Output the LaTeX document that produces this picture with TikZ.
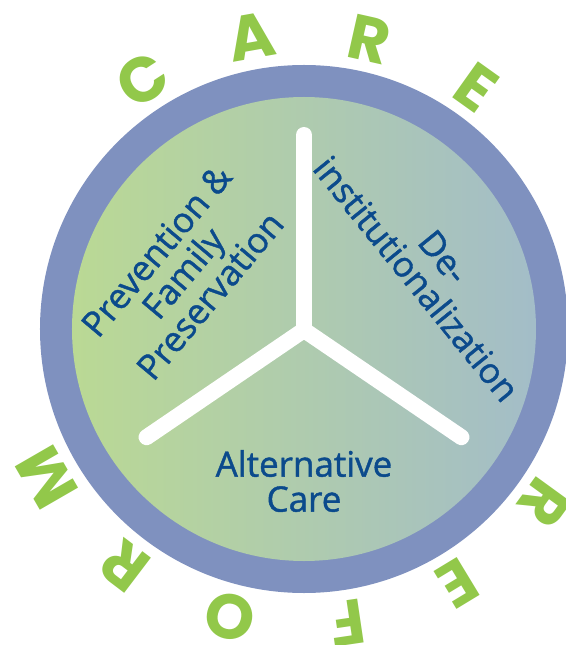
\documentclass[tikz,border=0pt]{standalone}
\usepackage{fontspec}
\setmainfont{Open Sans}
\newfontfamily\pillarfont{Open Sans}[FakeBold=1.2]
\newfontfamily\ringfont{Poppins}
\usepackage{xcolor}
\usepackage{tikz}
\usetikzlibrary{positioning,calc}
\definecolor{RingBlue}{HTML}{7F91BF}
\definecolor{PillarLeft}{HTML}{BAD994}
\definecolor{PillarRight}{HTML}{A3BDC8}
\definecolor{PillarInk}{HTML}{0B4A8C}
\definecolor{ReformGreen}{HTML}{92C84A}

\begin{document}
\begin{tikzpicture}[
  x=1pt,y=1pt,
  pillar/.style={text=PillarInk,align=center,inner sep=0pt,font=\pillarfont\fontsize{35}{35}\selectfont},
  ringletter/.style={text=ReformGreen,inner sep=0pt,font=\ringfont\bfseries\fontsize{63}{63}\selectfont},
  spoke/.style={white,line width=16pt,line cap=round}
]
  \useasboundingbox (-304,-316) rectangle (261,329);
  % outer ring and shaded disc
  \fill[RingBlue] (0,0) circle (264);
  \shade[left color=PillarLeft,right color=PillarRight] (0,0) circle (232);
  % the three spokes
  \coordinate (hub) at (0,-1);
  \coordinate (top) at (0,194);
  \coordinate (left) at (214.5:191);
  \coordinate (right) at (-34.5:191);
  \draw[spoke] (top) -- (hub);
  \draw[spoke] (left) -- (hub) -- (right);
  % pillar labels
  \node[pillar,rotate=50] (prevention) at (-121,56) {Prevention \&\\Family\\Preservation};
  \node[pillar,rotate=-51] (deinst) at (126,61) {De-\\institutionalization};
  \node[pillar] (altcare) at (0,-152) {Alternative\\Care};
  % CARE REFORM round the ring
  \foreach \ch/\ang [count=\i] in {C/122.9,A/100.1,R/77.3,E/54.5,R/-36,E/-58.8,F/-81.6,O/-104.4,R/-127.2,M/-150}
    \node[ringletter,rotate=\ang-90] (letter\i) at (\ang:297) {\ch};
\end{tikzpicture}
\end{document}
